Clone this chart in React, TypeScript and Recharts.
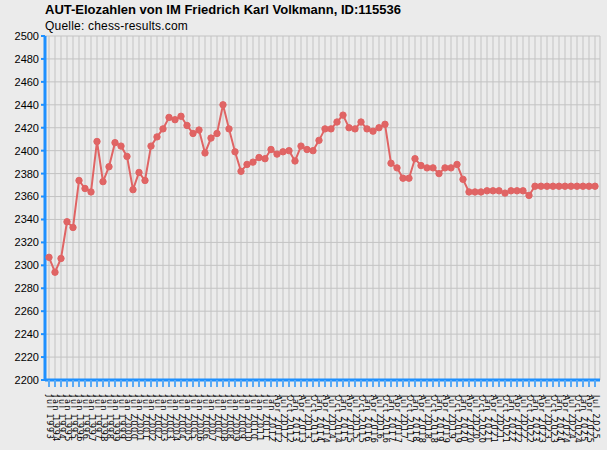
import React from "react";
import { LineChart, Line, XAxis, YAxis, CartesianGrid } from "recharts";

const title = "AUT-Elozahlen von IM Friedrich Karl Volkmann, ID:115536";
const subtitle = "Quelle: chess-results.com";

const periods = [
  "Jul 1993", "Jan 1994", "Jul 1994", "Jan 1995", "Jul 1995", "Jan 1996", "Jul 1996", "Jan 1997",
  "Jul 1997", "Jan 1998", "Jul 1998", "Jan 1999", "Jul 1999", "Jan 2000", "Jul 2000", "Jan 2001",
  "Jul 2001", "Jan 2002", "Jul 2002", "Jan 2003", "Jul 2003", "Jan 2004", "Jul 2004", "Jan 2005",
  "Jul 2005", "Jan 2006", "Jul 2006", "Jan 2007", "Jul 2007", "Jan 2008", "Jul 2008", "Jan 2009",
  "Jul 2009", "Jan 2010", "Jul 2010", "Jan 2011", "Jul 2011",
  "Jan 2012", "Apr 2012", "Jul 2012", "Oct 2012", "Jan 2013", "Apr 2013", "Jul 2013", "Oct 2013",
  "Jan 2014", "Apr 2014", "Jul 2014", "Oct 2014", "Jan 2015", "Apr 2015", "Jul 2015", "Oct 2015",
  "Jan 2016", "Apr 2016", "Jul 2016", "Oct 2016", "Jan 2017", "Apr 2017", "Jul 2017", "Oct 2017",
  "Jan 2018", "Apr 2018", "Jul 2018", "Oct 2018", "Jan 2019", "Apr 2019", "Jul 2019", "Oct 2019",
  "Jan 2020", "Apr 2020", "Jul 2020", "Oct 2020", "Jan 2021", "Apr 2021", "Jul 2021", "Oct 2021",
  "Jan 2022", "Apr 2022", "Jul 2022", "Oct 2022", "Jan 2023", "Apr 2023", "Jul 2023", "Oct 2023",
  "Jan 2024", "Apr 2024", "Jul 2024", "Oct 2024", "Jan 2025", "Apr 2025", "Jul 2025",
];

const ratings = [
  2307, 2294, 2306, 2338, 2333, 2374, 2367, 2364, 2408, 2373,
  2386, 2407, 2404, 2395, 2366, 2381, 2374, 2404, 2412, 2419,
  2429, 2427, 2430, 2422, 2415, 2418, 2398, 2411, 2415, 2440,
  2419, 2399, 2382, 2388, 2390, 2394, 2393, 2401, 2397, 2399,
  2400, 2391, 2404, 2401, 2400, 2409, 2419, 2419, 2425, 2431,
  2420, 2419, 2425, 2419, 2417, 2420, 2423, 2389, 2385, 2376,
  2376, 2393, 2387, 2385, 2385, 2380, 2385, 2385, 2388, 2375,
  2364, 2364, 2364, 2365, 2365, 2365, 2363, 2365, 2365, 2365,
  2361, 2369, 2369, 2369, 2369, 2369, 2369, 2369, 2369, 2369,
  2369, 2369,
];

const yTicks = [
  2200, 2220, 2240, 2260, 2280, 2300, 2320, 2340, 2360, 2380,
  2400, 2420, 2440, 2460, 2480, 2500,
];

const data = periods.map((p, i) => ({ period: p, elo: ratings[i] }));

const BLUE = "#1e90ff";
const LINE = "#e06464";

const XTick = (props: any) => {
  const { x, y, payload } = props;
  return (
    <g>
      <line x1={x} y1={y - 8} x2={x} y2={y - 1} stroke="#5aaaf5" strokeWidth={2} />
      <text
        x={x}
        y={y + 7}
        transform={`rotate(90, ${x}, ${y + 7})`}
        textAnchor="start"
        dominantBaseline="central"
        fontSize={8}
        letterSpacing={1.6}
        fontFamily="DejaVu Sans"
        fill="#000"
      >
        {payload.value}
      </text>
    </g>
  );
};

export default function App() {
  return (
    <div
      style={{
        position: "absolute",
        left: 0,
        top: 0,
        width: 607,
        height: 450,
        background: "#ebebeb",
        overflow: "hidden",
      }}
    >
      <div
        style={{
          position: "absolute",
          left: 45,
          top: 2,
          fontFamily: "Liberation Sans, Arial, sans-serif",
          fontWeight: "bold",
          fontSize: 13,
          color: "#000",
          whiteSpace: "nowrap",
        }}
      >
        {title}
      </div>
      <div
        style={{
          position: "absolute",
          left: 45,
          top: 19,
          fontFamily: "Liberation Sans, Arial, sans-serif",
          fontSize: 12,
          letterSpacing: 0.2,
          color: "#000",
          whiteSpace: "nowrap",
        }}
      >
        {subtitle}
      </div>
      <div style={{ position: "absolute", left: 0, top: 0 }}>
        <LineChart
          width={607}
          height={450}
          data={data}
          margin={{ top: 36, right: 7, bottom: 0, left: 0 }}
        >
          <CartesianGrid stroke="#c3c3c3" strokeWidth={1} />
          <XAxis
            dataKey="period"
            interval={0}
            height={70}
            padding={{ left: 4, right: 5 }}
            axisLine={{ stroke: BLUE, strokeWidth: 3 }}
            tickLine={false}
            tick={<XTick />}
          />
          <YAxis
            domain={[2200, 2500]}
            ticks={yTicks}
            interval={0}
            width={45}
            axisLine={{ stroke: BLUE, strokeWidth: 3 }}
            tickLine={{ stroke: BLUE, strokeWidth: 2 }}
            tickSize={4}
            tickMargin={2}
            tick={{ fontSize: 11, fontFamily: "Liberation Sans, Arial, sans-serif", fill: "#000" }}
          />
          <Line
            type="linear"
            dataKey="elo"
            stroke={LINE}
            strokeWidth={2}
            dot={{ r: 3.2, fill: LINE, stroke: LINE, strokeWidth: 1 }}
            isAnimationActive={false}
          />
        </LineChart>
      </div>
    </div>
  );
}
